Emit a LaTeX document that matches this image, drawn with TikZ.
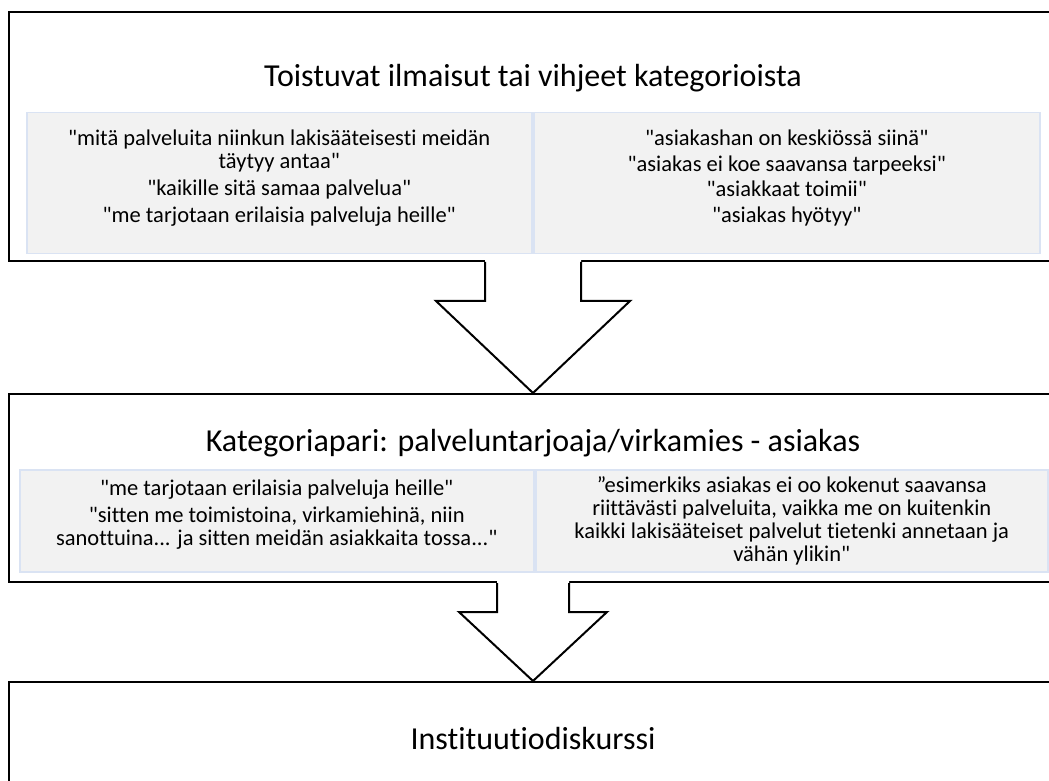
\documentclass[tikz,border=0pt]{standalone}
\usepackage{fontspec}
\setmainfont{Carlito}[Ligatures={TeXOff,CommonOff}]
\usetikzlibrary{positioning,calc}
\definecolor{qfill}{HTML}{F2F2F2}
\definecolor{qline}{HTML}{DAE3F3}
\newcommand{\blockarr}[5]{%
  \fill[white] ($(#1)+(-#3,2)$) -- ($(#1)+(-#3,-#5)$) -- ($(#1)+(-#4,-#5)$) -- (#2)
    -- ($(#1)+(#4,-#5)$) -- ($(#1)+(#3,-#5)$) -- ($(#1)+(#3,2)$) -- cycle;
  \draw[arrline] ($(#1)+(-#3,0)$) -- ($(#1)+(-#3,-#5)$) -- ($(#1)+(-#4,-#5)$) -- (#2)
    -- ($(#1)+(#4,-#5)$) -- ($(#1)+(#3,-#5)$) -- ($(#1)+(#3,0)$);}

\begin{document}
\begin{tikzpicture}[x=1pt, y=1pt,
    outer/.style={draw, line width=2pt, minimum width=1048pt, inner sep=0pt},
    title/.style={font=\fontsize{32}{38}\selectfont, inner sep=0pt, anchor=base},
    qbox/.style={draw=qline, fill=qfill, line width=1.5pt, anchor=north west, inner sep=0pt},
    qtext/.style={font=\fontsize{22.5}{22.5}\selectfont, align=center, inner sep=0pt},
    arrline/.style={line width=2pt, line join=miter}]
    \useasboundingbox (0,0) rectangle (1049,780);
    \clip (0,0) rectangle (1049,780);
    \node[outer, minimum height=249pt] (b1) at (533,643.5) {};
    \node[outer, minimum height=188pt] (b2) at (533,292) {};
    \node[outer, minimum height=130pt] (b3) at (533,33) {};
    \node[title] (t1) at ($(b1.north)+(0,-76)$) {Toistuvat ilmaisut tai vihjeet kategorioista};
    \node[title] (t2) at ($(b2.north)+(0,-58)$) {Kategoriapari: palveluntarjoaja/virkamies - asiakas};
    \node[title] (t3) at ($(b3.north)+(0,-68)$) {Instituutiodiskurssi};
    \node[qbox, minimum width=505pt, minimum height=141pt] (qa) at (26,668) {};
    \node[qbox, minimum width=506pt, minimum height=141pt] (qb) at (533,668) {};
    \node[qbox, minimum width=514pt, minimum height=102pt] (qc) at (19,311) {};
    \node[qbox, minimum width=512pt, minimum height=102pt] (qd) at (535,311) {};
    \node[qtext, below=18pt of qa.north] (qa text) {"mitä palveluita niinkun lakisääteisesti meidän\\täytyy antaa"\\[4.5pt]
      "kaikille sitä samaa palvelua"\\[4.5pt] "me tarjotaan erilaisia palveluja heille"};
    \node[qtext, below=18pt of qb.north] (qb text) {"asiakashan on keskiössä siinä"\\[3pt]
      "asiakas ei koe saavansa tarpeeksi"\\[3pt] "asiakkaat toimii"\\[3pt] "asiakas hyötyy"};
    \node[qtext, below=11pt of qc.north] (qc text) {"me tarjotaan erilaisia palveluja heille"\\[4.5pt]
      "sitten me toimistoina, virkamiehinä, niin\\sanottuina... ja sitten meidän asiakkaita tossa..."};
    \node[qtext, font=\fontsize{22.5}{23}\selectfont, below=7pt of qd.north] (qd text) {”esimerkiks asiakas ei oo kokenut saavansa\\
      riittävästi palveluita, vaikka me on kuitenkin\\kaikki lakisääteiset palvelut tietenki annetaan ja\\vähän ylikin"};
    \blockarr{b1.south}{b2.north}{48}{97}{39}
    \blockarr{b2.south}{b3.north}{36}{74}{29}
\end{tikzpicture}
\end{document}
